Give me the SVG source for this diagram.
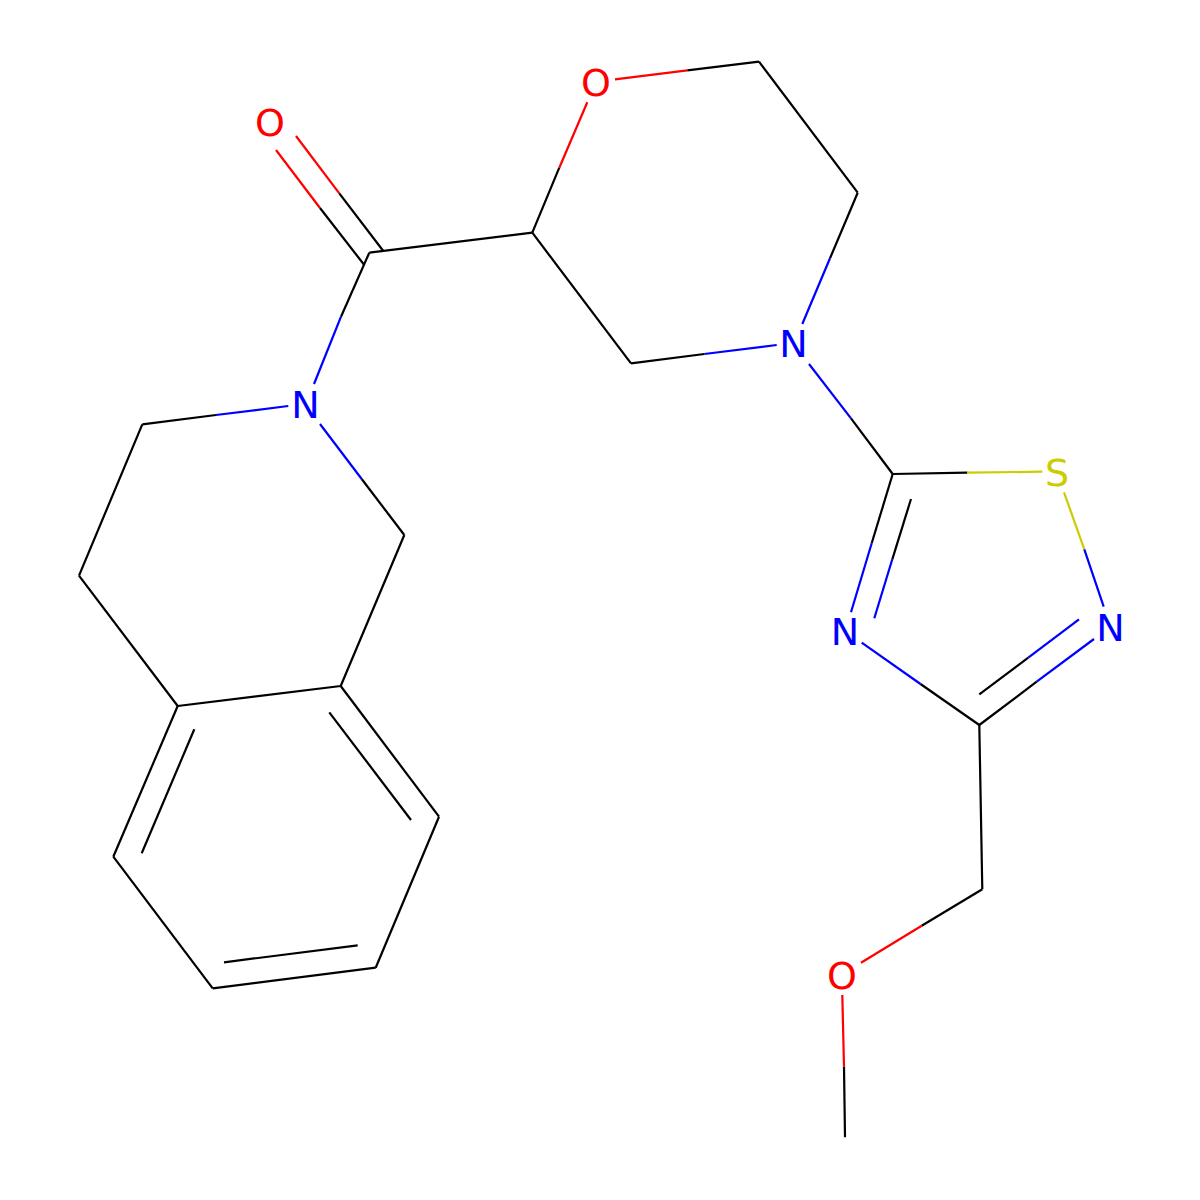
<svg xmlns="http://www.w3.org/2000/svg" width="1200" height="1200" viewBox="0 0 1200 1200">
<style>
line{stroke-width:2.2;stroke-linecap:butt;fill:none}
.k{stroke:#000000}.r{stroke:#FF0000}.b{stroke:#0000FF}.y{stroke:#CCCC00}
text{font-family:"DejaVu Sans",sans-serif;font-size:38px;text-anchor:middle}
.tr{fill:#FF0000}.tb{fill:#0000FF}.ty{fill:#CCCC00}
</style>
<rect width="1200" height="1200" fill="#FFFFFF"/>
<g id="bonds">
<!-- carbonyl C=O -->
<line class="r" x1="276" y1="150" x2="320" y2="208"/><line class="k" x1="320" y1="208" x2="364.3" y2="265"/>
<line class="r" x1="296" y1="136" x2="339.3" y2="193.3"/><line class="k" x1="339.3" y1="193.3" x2="383.3" y2="251"/>
<!-- carbonyl C - ring C -->
<line class="k" x1="369.3" y1="252.7" x2="532.3" y2="232.7"/>
<!-- carbonyl C - N -->
<line class="k" x1="369.3" y1="252.7" x2="341" y2="316.7"/><line class="b" x1="341" y1="316.7" x2="314" y2="384"/>
<!-- morpholine -->
<line class="k" x1="532.3" y1="232.7" x2="559.3" y2="167.7"/><line class="r" x1="559.3" y1="167.7" x2="587.3" y2="102.3"/>
<line class="r" x1="615" y1="79.3" x2="687.3" y2="70.3"/><line class="k" x1="687.3" y1="70.3" x2="759" y2="61.7"/>
<line class="k" x1="759" y1="61.7" x2="857.7" y2="192.7"/>
<line class="k" x1="857.7" y1="192.7" x2="830" y2="258.3"/><line class="b" x1="830" y1="258.3" x2="802.3" y2="324"/>
<line class="b" x1="776.7" y1="345" x2="704.3" y2="354"/><line class="k" x1="704.3" y1="354" x2="631" y2="363.3"/>
<line class="k" x1="631" y1="363.3" x2="532.3" y2="232.7"/>
<!-- N - thiadiazole C -->
<line class="b" x1="809" y1="364" x2="851" y2="418.3"/><line class="k" x1="851" y1="418.3" x2="892.7" y2="474"/>
<!-- thiadiazole -->
<line class="k" x1="892.7" y1="474" x2="967.3" y2="472.7"/><line class="y" x1="967.3" y1="472.7" x2="1042.3" y2="471.7"/>
<line class="y" x1="1064" y1="492.3" x2="1084.3" y2="549.3"/><line class="b" x1="1084.3" y1="549.3" x2="1103.7" y2="606.7"/>
<line class="k" x1="892.7" y1="474" x2="871.7" y2="543.3"/><line class="b" x1="871.7" y1="543.3" x2="851" y2="612.3"/>
<line class="k" x1="911" y1="499" x2="892.3" y2="559.3"/><line class="b" x1="892.3" y1="559.3" x2="874.3" y2="618.3"/>
<line class="b" x1="861.7" y1="642.7" x2="920.5" y2="684"/><line class="k" x1="920.5" y1="684" x2="979.3" y2="725"/>
<line class="k" x1="979.3" y1="725" x2="1036.7" y2="681.7"/><line class="b" x1="1036.7" y1="681.7" x2="1094" y2="639"/>
<line class="k" x1="979.3" y1="694.3" x2="1028.3" y2="657.7"/><line class="b" x1="1028.3" y1="657.7" x2="1079" y2="619.3"/>
<!-- CH2-O-CH3 -->
<line class="k" x1="979.3" y1="725" x2="982.3" y2="889.3"/>
<line class="k" x1="982.3" y1="889.3" x2="921.7" y2="925.7"/><line class="r" x1="921.7" y1="925.7" x2="861" y2="962.7"/>
<line class="r" x1="842.3" y1="995" x2="844" y2="1066.7"/><line class="k" x1="844" y1="1066.7" x2="845" y2="1137.3"/>
<!-- tetrahydroisoquinoline -->
<line class="b" x1="288.3" y1="406" x2="216" y2="415"/><line class="k" x1="216" y1="415" x2="142.3" y2="424.3"/>
<line class="b" x1="320" y1="424" x2="361.7" y2="479"/><line class="k" x1="361.7" y1="479" x2="404.3" y2="535"/>
<line class="k" x1="142.3" y1="424.3" x2="79" y2="575.7"/>
<line class="k" x1="79" y1="575.7" x2="177.7" y2="706"/>
<line class="k" x1="404.3" y1="535" x2="340.7" y2="686"/>
<!-- benzene -->
<line class="k" x1="177.7" y1="706" x2="340.7" y2="686"/>
<line class="k" x1="340.7" y1="686" x2="439" y2="816.7"/>
<line class="k" x1="329.3" y1="712.3" x2="411" y2="820"/>
<line class="k" x1="439" y1="816.7" x2="375.7" y2="967.7"/>
<line class="k" x1="375.7" y1="967.7" x2="212.7" y2="988.3"/>
<line class="k" x1="357.7" y1="945.3" x2="224" y2="962.3"/>
<line class="k" x1="212.7" y1="988.3" x2="113.3" y2="856.7"/>
<line class="k" x1="113.3" y1="856.7" x2="177.7" y2="706"/>
<line class="k" x1="194.3" y1="729.3" x2="141.7" y2="853.3"/>
</g>
<g id="atom-O1"><text class="tr" x="270" y="136">O</text></g>
<g id="atom-O2"><text class="tr" x="596" y="95.5">O</text></g>
<g id="atom-N1"><text class="tb" x="305.5" y="418">N</text></g>
<g id="atom-N2"><text class="tb" x="793.5" y="357">N</text></g>
<g id="atom-S"><text class="ty" x="1057" y="486">S</text></g>
<g id="atom-N3"><text class="tb" x="1110.5" y="640.5">N</text></g>
<g id="atom-N4"><text class="tb" x="845" y="645">N</text></g>
<g id="atom-O3"><text class="tr" x="842" y="988.5">O</text></g>
</svg>
